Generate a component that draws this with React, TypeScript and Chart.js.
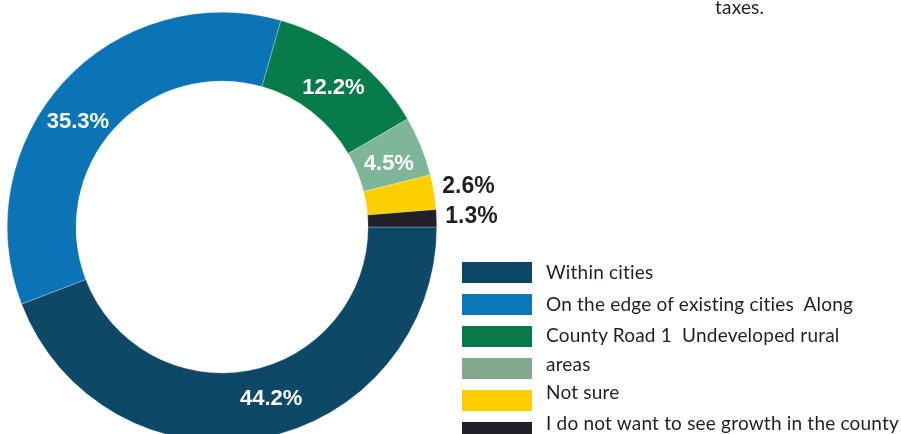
import React, { useEffect, useRef } from "react";
import { Chart, registerables } from "chart.js";

Chart.register(...registerables);

// ---- data ----
const categories = [
  "Within cities",
  "On the edge of existing cities",
  "Along County Road 1",
  "Undeveloped rural areas",
  "Not sure",
  "I do not want to see growth in the county",
];
const values = [44.2, 35.3, 12.2, 4.5, 2.6, 1.3];
const valueLabels = ["44.2%", "35.3%", "12.2%", "4.5%", "2.6%", "1.3%"];
const legendLines = [
  "Within cities",
  "On the edge of existing cities  Along",
  "County Road 1  Undeveloped rural",
  "areas",
  "Not sure",
  "I do not want to see growth in the county",
];
const topNote = "taxes.";

// ---- styles ----
const sliceColors = ["#0e4867", "#0b74b6", "#087b4b", "#7eb699", "#fcd000", "#231f26"];
const legendColors = ["#0c4664", "#0b76b8", "#087a4a", "#82a98b", "#fdcf00", "#231f26"];
const labelAngleNudge = [-5.5, -6.3, 0.8, 1.4, 0, 0];
const legendBoxTops = [262, 294, 326, 358, 390, 422];
const legendBaselines = [279, 311, 342, 371, 399, 430];

const labelPlugin = {
  id: "sliceLabels",
  afterDatasetsDraw(chart: any) {
    const ctx = chart.ctx;
    const meta = chart.getDatasetMeta(0);
    meta.data.forEach((arc: any, i: number) => {
      const p = arc.getProps(["x", "y", "startAngle", "endAngle", "innerRadius", "outerRadius"], true);
      const outside = values[i] < 3;
      const mid = (p.startAngle + p.endAngle) / 2 + (labelAngleNudge[i] * Math.PI) / 180;
      const r = outside ? p.outerRadius + 35 : (p.innerRadius + p.outerRadius) / 2 - 2;
      ctx.save();
      ctx.font = outside ? 'bold 23px "Liberation Sans", Arial, sans-serif' : 'bold 22px "Liberation Sans", Arial, sans-serif';
      ctx.fillStyle = outside ? "#231f20" : "#ffffff";
      ctx.textAlign = "center";
      ctx.textBaseline = "middle";
      ctx.fillText(valueLabels[i], p.x + r * Math.cos(mid), p.y + r * Math.sin(mid));
      ctx.restore();
    });
  },
};

export default function App() {
  const canvasRef = useRef<HTMLCanvasElement | null>(null);

  useEffect(() => {
    if (!canvasRef.current) return;
    const chart = new Chart(canvasRef.current, {
      type: "doughnut",
      data: {
        labels: categories,
        datasets: [
          {
            data: values,
            backgroundColor: sliceColors,
            borderColor: "rgba(255,255,255,0.5)",
            borderWidth: 0.5,
          },
        ],
      },
      options: {
        responsive: false,
        devicePixelRatio: 1,
        animation: false,
        rotation: 90,
        cutout: "68%",
        layout: { padding: { left: 7, top: 12, right: 464, bottom: 8 } },
        plugins: {
          legend: { display: false },
          tooltip: { enabled: false },
        },
      },
      plugins: [labelPlugin],
    });
    return () => chart.destroy();
  }, []);

  const textFont = 'Lato, "Open Sans", sans-serif';

  return (
    <div
      style={{
        position: "fixed",
        left: 0,
        top: 0,
        width: 901,
        height: 434,
        overflow: "hidden",
        background: "#ffffff",
      }}
    >
      <canvas ref={canvasRef} width={901} height={450} style={{ position: "absolute", left: 0, top: 0 }} />
      <div
        style={{
          position: "absolute",
          left: 715,
          top: 14 - 17,
          font: `19px ${textFont}`,
          lineHeight: "19px",
          letterSpacing: "0.2px",
          color: "#231f20",
          whiteSpace: "nowrap",
        }}
      >
        {topNote}
      </div>
      {legendColors.map((c, i) => (
        <div
          key={"box" + i}
          style={{
            position: "absolute",
            left: 462,
            top: legendBoxTops[i],
            width: 70,
            height: 21,
            background: c,
          }}
        />
      ))}
      {legendLines.map((t, i) => (
        <div
          key={"txt" + i}
          style={{
            position: "absolute",
            left: 546,
            top: legendBaselines[i] - 17,
            font: `19px ${textFont}`,
            lineHeight: "19px",
            letterSpacing: "0.2px",
            color: "#231f20",
            whiteSpace: "pre",
          }}
        >
          {t}
        </div>
      ))}
    </div>
  );
}
